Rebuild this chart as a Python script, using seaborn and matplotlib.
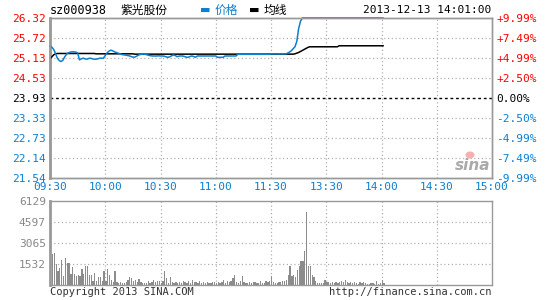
import matplotlib
matplotlib.use("Agg")
import matplotlib.pyplot as plt
from matplotlib.patches import Ellipse
import seaborn as sns
import numpy as np
import pandas as pd

sns.set_theme(style="white")
plt.rcParams['font.family'] = ['DejaVu Sans Mono', 'Noto Sans CJK SC']

# ---------------- data ----------------
pre_close = 23.93
price_ticks = [21.54, 22.14, 22.73, 23.33, 23.93, 24.53, 25.13, 25.72, 26.32]
pct_labels = ["-9.99%", "-7.49%", "-4.99%", "-2.50%", "0.00%", "+2.50%", "+4.99%", "+7.49%", "+9.99%"]
vol_ticks = [1532, 3065, 4597, 6129]
time_labels = ["09:30", "10:00", "10:30", "11:00", "11:30", "13:30", "14:00", "14:30", "15:00"]
time_label_pos = [0, 30, 60, 90, 120, 150, 180, 210, 240]

price = [
    25.48, 25.45, 25.38, 25.26, 25.12, 25.05, 25.02, 25.06, 25.16, 25.24,
    25.28, 25.30, 25.31, 25.31, 25.30, 25.28, 25.07, 25.10, 25.12, 25.10,
    25.09, 25.11, 25.12, 25.10, 25.09, 25.09, 25.10, 25.12, 25.12, 25.12,
    25.20, 25.28, 25.33, 25.36, 25.34, 25.31, 25.29, 25.27, 25.25, 25.23,
    25.22, 25.21, 25.20, 25.19, 25.17, 25.15, 25.15, 25.18, 25.21, 25.23,
    25.24, 25.245, 25.23, 25.215, 25.20, 25.19, 25.185, 25.185, 25.185, 25.19,
    25.185, 25.185, 25.18, 25.16, 25.146, 25.16, 25.19, 25.215, 25.20, 25.165,
    25.18, 25.185, 25.185, 25.17, 25.15, 25.146, 25.17, 25.185, 25.17, 25.146,
    25.185, 25.185, 25.185, 25.185, 25.185, 25.185, 25.185, 25.185, 25.185, 25.185,
    25.185, 25.146, 25.146, 25.146, 25.146, 25.185, 25.185, 25.185, 25.185, 25.185,
    25.185, 25.185, 25.236, 25.236, 25.236, 25.236, 25.236, 25.236, 25.236, 25.236,
    25.236, 25.236, 25.236, 25.236, 25.236, 25.236, 25.236, 25.236, 25.236, 25.236,
    25.245, 25.245, 25.245, 25.245, 25.245, 25.245, 25.245, 25.245, 25.245, 25.27,
    25.30, 25.34, 25.40, 25.46, 25.62, 26.00, 26.22, 26.32, 26.32, 26.32,
    26.32, 26.32, 26.32, 26.32, 26.32, 26.32, 26.32, 26.32, 26.32, 26.32,
    26.32, 26.32, 26.32, 26.32, 26.32, 26.32, 26.32, 26.32, 26.32, 26.32,
    26.32, 26.32, 26.32, 26.32, 26.32, 26.32, 26.32, 26.32, 26.32, 26.32,
    26.32, 26.32, 26.32, 26.32, 26.32, 26.32, 26.32, 26.32, 26.32, 26.32,
    26.32, 26.32,
]

avg_price = [
    25.09, 25.16, 25.22, 25.25, 25.26, 25.26, 25.26, 25.26, 25.26, 25.26,
    25.26, 25.26, 25.26, 25.26, 25.26, 25.26, 25.26, 25.26, 25.26, 25.26,
    25.26, 25.26, 25.26, 25.26, 25.26, 25.25, 25.25, 25.25, 25.25, 25.25,
    25.25, 25.25, 25.25, 25.25, 25.25, 25.25, 25.25, 25.25, 25.25, 25.25,
    25.25, 25.25, 25.25, 25.25, 25.25, 25.25, 25.24, 25.24, 25.24, 25.24,
    25.24, 25.24, 25.24, 25.24, 25.24, 25.24, 25.24, 25.24, 25.24, 25.24,
    25.24, 25.24, 25.24, 25.24, 25.24, 25.24, 25.24, 25.24, 25.24, 25.24,
    25.24, 25.24, 25.24, 25.24, 25.24, 25.24, 25.24, 25.24, 25.24, 25.24,
    25.24, 25.24, 25.24, 25.24, 25.24, 25.24, 25.24, 25.24, 25.24, 25.24,
    25.24, 25.24, 25.24, 25.24, 25.24, 25.24, 25.24, 25.24, 25.24, 25.24,
    25.24, 25.24, 25.24, 25.24, 25.24, 25.24, 25.24, 25.24, 25.24, 25.24,
    25.24, 25.24, 25.24, 25.24, 25.24, 25.24, 25.24, 25.24, 25.24, 25.24,
    25.24, 25.24, 25.24, 25.24, 25.24, 25.24, 25.24, 25.24, 25.24, 25.24,
    25.24, 25.24, 25.24, 25.25, 25.27, 25.29, 25.32, 25.35, 25.38, 25.41,
    25.44, 25.46, 25.46, 25.46, 25.46, 25.46, 25.46, 25.46, 25.46, 25.46,
    25.46, 25.46, 25.46, 25.46, 25.46, 25.46, 25.46, 25.49, 25.49, 25.49,
    25.49, 25.49, 25.49, 25.49, 25.49, 25.49, 25.49, 25.49, 25.49, 25.49,
    25.49, 25.49, 25.49, 25.49, 25.49, 25.49, 25.49, 25.49, 25.49, 25.49,
    25.49, 25.49,
]

volume = [
    2900, 2280, 2330, 1530, 1050, 1240, 1850, 640, 2000, 1600,
    1600, 800, 1280, 800, 640, 700, 630, 1190, 800, 1360,
    1410, 750, 700, 260, 870, 260, 550, 600, 260, 990,
    260, 1190, 750, 380, 250, 1050, 200, 150, 230, 120,
    180, 250, 380, 560, 500, 260, 380, 220, 460, 240,
    180, 120, 110, 300, 180, 240, 380, 200, 260, 310,
    170, 260, 990, 500, 150, 560, 230, 170, 250, 120,
    200, 140, 300, 200, 150, 290, 130, 380, 250, 250,
    150, 300, 160, 220, 140, 200, 130, 180, 250, 200,
    150, 210, 120, 250, 400, 180, 300, 200, 260, 500,
    700, 200, 180, 260, 630, 200, 150, 180, 250, 160,
    190, 230, 150, 180, 300, 170, 150, 260, 220, 300,
    630, 250, 150, 180, 230, 200, 310, 280, 380, 750,
    1410, 680, 750, 600, 1115, 1360, 1775, 1775, 2500, 5325,
    1360, 1410, 750, 555, 310, 120, 150, 120, 150, 385,
    250, 200, 150, 250, 120, 200, 150, 250, 300, 200,
    350, 200, 150, 250, 120, 200, 150, 100, 250, 150,
    200, 120, 100, 100, 150, 120, 100, 315, 100, 120,
    350, 120,
]

minutes = list(range(len(price)))
df = pd.DataFrame({"minute": minutes, "price": price, "avg": avg_price, "volume": volume})

BLUE = "#0c7fcf"
RED = "#ff0000"
GRID = "#b0b0b0"
FRAME = "#999999"

fig = plt.figure(figsize=(5.45, 3.0), dpi=100)
fig.patch.set_facecolor("white")
ax = fig.add_axes([50/545, 1-178/300, 442/545, 160/300])
axv = fig.add_axes([50/545, 1-285/300, 442/545, 84/300])

# ---------------- price panel ----------------
ax.set_xlim(0, 240)
ax.set_ylim(price_ticks[0], price_ticks[-1])
for t in time_label_pos[1:-1]:
    ax.axvline(t, color=GRID, lw=0.9, ls=(0, (1, 2)), zorder=1)
for p in price_ticks[1:-1]:
    if p == pre_close:
        ax.axhline(p, color="black", lw=1.0, ls=(0, (2, 2)), zorder=1)
    else:
        ax.axhline(p, color=GRID, lw=0.9, ls=(0, (1, 2)), zorder=1)

sns.lineplot(data=df, x="minute", y="avg", ax=ax, color="black", lw=1.1, zorder=3)
sns.lineplot(data=df, x="minute", y="price", ax=ax, color=BLUE, lw=1.1, zorder=4, clip_on=False)

ax.set_xlabel("")
ax.set_ylabel("")
ax.set_yticks(price_ticks)
ax.set_yticklabels([f"{p:.2f}" for p in price_ticks])
for lbl, p in zip(ax.get_yticklabels(), price_ticks):
    lbl.set_color(RED if p > pre_close else ("black" if p == pre_close else BLUE))
ax.set_xticks(time_label_pos)
ax.set_xticklabels(time_labels)
for lbl in ax.get_xticklabels():
    lbl.set_color(BLUE)
ax.tick_params(axis="both", length=0, labelsize=8, pad=3)

axr = ax.twinx()
axr.set_ylim(ax.get_ylim())
axr.set_yticks(price_ticks)
axr.set_yticklabels(pct_labels)
for lbl, p in zip(axr.get_yticklabels(), price_ticks):
    lbl.set_color(RED if p > pre_close else ("black" if p == pre_close else BLUE))
axr.tick_params(axis="y", length=0, labelsize=8, pad=3)
for a in (ax, axr):
    for s in a.spines.values():
        s.set_color(FRAME)
        s.set_linewidth(1.0)
ax.spines["left"].set_linewidth(2.0)

# ---------------- volume panel ----------------
axv.set_xlim(0, 240)
axv.set_ylim(0, vol_ticks[-1])
for t in time_label_pos[1:-1]:
    axv.axvline(t, color=GRID, lw=0.9, ls=(0, (1, 2)), zorder=1)
for v in vol_ticks[:-1]:
    axv.axhline(v, color=GRID, lw=0.9, ls=(0, (1, 2)), zorder=1)
axv.bar(df["minute"], df["volume"], width=0.7, color="#8c8c8c", edgecolor="none",
        linewidth=0, align="edge", zorder=2)
axv.set_yticks(vol_ticks)
axv.set_yticklabels([str(v) for v in vol_ticks])
axv.set_xticks([])
axv.tick_params(axis="y", length=0, labelsize=8, pad=3, colors="#888888")
for s in axv.spines.values():
    s.set_color(FRAME)
    s.set_linewidth(1.0)
axv.spines["left"].set_linewidth(2.0)

# ---------------- texts ----------------
fig.text(50/545, 1-10/300, "sz000938", fontsize=8.5, color="black", va="center", ha="left")
fig.text(120/545, 1-10/300, "紫光股份", fontsize=8.5, color="black", va="center", ha="left",
         family=["Noto Sans CJK SC", "DejaVu Sans"])
fig.text(200/545, 1-10/300, "▬", fontsize=8, color=BLUE, va="center", ha="left", family="DejaVu Sans")
fig.text(215/545, 1-10/300, "价格", fontsize=8.5, color=BLUE, va="center", ha="left",
         family=["Noto Sans CJK SC", "DejaVu Sans"])
fig.text(249/545, 1-10/300, "▬", fontsize=8, color="black", va="center", ha="left", family="DejaVu Sans")
fig.text(264/545, 1-10/300, "均线", fontsize=8.5, color="black", va="center", ha="left",
         family=["Noto Sans CJK SC", "DejaVu Sans"])
fig.text(491/545, 1-10/300, "2013-12-13 14:01:00", fontsize=8, color="black", va="center", ha="right")
fig.text(50/545, 1-292/300, "Copyright 2013 SINA.COM", fontsize=7.5, color="#333333", va="center", ha="left")
fig.text(492/545, 1-292/300, "http://finance.sina.com.cn", fontsize=7.5, color="#333333", va="center", ha="right")
fig.text(473/545, 1-166/300, "sina", fontsize=11, color="#aaaaaa", style="italic", weight="bold",
         va="center", ha="center", family="DejaVu Sans")
fig.add_artist(Ellipse((470/545, 1-155/300), 9/545, 7/300, transform=fig.transFigure,
                       facecolor="#f6b0b0", edgecolor="none"))

fig.savefig("out.png", dpi=100, facecolor="white")
